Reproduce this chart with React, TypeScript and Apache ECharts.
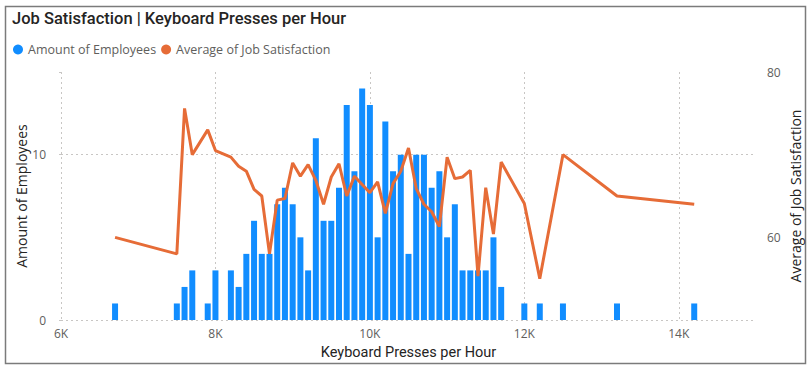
import React, { useEffect, useRef } from "react";
import * as echarts from "echarts";

const titleText = "Job Satisfaction | Keyboard Presses per Hour";
const seriesNames = ["Amount of Employees", "Average of Job Satisfaction"];
const xAxisName = "Keyboard Presses per Hour";

const bins = [6700, 7500, 7600, 7700, 7900, 8000, 8200, 8300, 8400, 8500, 8600, 8700, 8800, 8900, 9000, 9100, 9200, 9300, 9400, 9500, 9600, 9700, 9800, 9900, 10000, 10100, 10200, 10300, 10400, 10500, 10600, 10700, 10800, 10900, 11000, 11100, 11200, 11300, 11400, 11500, 11600, 11700, 12000, 12200, 12500, 13200, 14200];
const employees = [1, 1, 2, 3, 1, 3, 3, 2, 4, 6, 4, 4, 7, 8, 7, 5, 3, 11, 6, 6, 8, 13, 9, 14, 13, 5, 12, 9, 10, 4, 10, 10, 8, 9, 5, 7, 3, 3, 3, 3, 5, 2, 1, 1, 1, 1, 1];
const satisfaction = [60.0, 58.0, 75.6, 70.0, 73.0, 70.5, 69.7, 68.6, 68.0, 65.8, 65.0, 58.0, 64.5, 64.7, 69.0, 67.4, 68.8, 66.9, 64.0, 67.3, 68.9, 65.0, 67.4, 66.4, 65.4, 66.7, 62.9, 66.5, 68.0, 70.8, 65.9, 64.0, 63.1, 61.3, 69.7, 67.1, 67.3, 68.1, 55.3, 66.0, 60.4, 69.1, 64.1, 55.0, 70.0, 65.0, 64.0];

const leftTicks = [0, 10];
const rightTicks = [60, 80];

const FONT = "'Segoe UI', 'Open Sans', sans-serif";
const gridColor = "#C8C6C4";
const labelColor = "#605E5C";
const nameColor = "#252423";

export default function App() {
  const ref = useRef<HTMLDivElement>(null);
  useEffect(() => {
    document.body.style.margin = "0";
    const chart = echarts.init(ref.current!, null, { renderer: "svg" });
    const dotted = { color: gridColor, width: 1, type: [2, 3] as any };
    chart.setOption({
      animation: false,
      backgroundColor: "#fff",
      textStyle: { fontFamily: FONT },
      graphic: [
        {
          type: "rect",
          shape: { x: 5.5, y: 6.5, width: 800, height: 357 },
          style: { fill: "none", stroke: "#7b7b7b", lineWidth: 1.5 },
          silent: true,
        },
        {
          type: "text",
          left: 12,
          top: 10,
          style: { text: titleText, fontFamily: "Roboto, sans-serif", fontSize: 16.5, fontWeight: 500, fill: nameColor },
        },
      ],
      legend: {
        left: 8,
        top: 38,
        itemWidth: 10,
        itemHeight: 10,
        itemGap: 5,
        icon: "circle",
        textStyle: { color: labelColor, fontSize: 12.5, fontFamily: FONT },
        data: seriesNames,
      },
      grid: { left: 61, right: 56, top: 72, bottom: 51, containLabel: false },
      xAxis: {
        type: "value",
        min: 6000,
        max: 15000,
        interval: 2000,
        name: xAxisName,
        nameLocation: "middle",
        nameGap: 25,
        nameMoveOverlap: false,
        nameTextStyle: { color: nameColor, fontSize: 14.5, fontFamily: "Roboto, sans-serif" },
        axisLine: { show: false },
        axisTick: { show: false },
        axisLabel: {
          color: labelColor,
          fontSize: 12,
          margin: 7,
          showMaxLabel: false,
          formatter: (v: number) => (v >= 15000 ? "" : v / 1000 + "K"),
        },
        splitLine: { show: true, lineStyle: dotted, showMaxLine: false },
      },
      yAxis: [
        {
          type: "value",
          min: 0,
          max: 15,
          interval: 5,
          name: seriesNames[0],
          nameLocation: "middle",
          nameGap: 33,
          nameMoveOverlap: false,
          nameTextStyle: { color: nameColor, fontSize: 14 },
          axisLine: { show: false },
          axisTick: { show: false },
          axisLabel: {
            color: labelColor,
            fontSize: 12,
            margin: 15,
            formatter: (v: number) => (leftTicks.includes(v) ? String(v) : ""),
          },
          splitLine: { show: false },
        },
        {
          type: "value",
          min: 50,
          max: 80,
          interval: 10,
          name: seriesNames[1],
          nameLocation: "middle",
          nameGap: 32,
          nameMoveOverlap: false,
          nameTextStyle: { color: nameColor, fontSize: 14 },
          axisLine: { show: false },
          axisTick: { show: false },
          axisLabel: {
            color: labelColor,
            fontSize: 12,
            margin: 11,
            formatter: (v: number) => (rightTicks.includes(v) ? String(v) : ""),
          },
          splitLine: { show: false },
        },
        {
          type: "value",
          min: 0,
          max: 15,
          interval: 10,
          show: true,
          position: "left",
          axisLine: { show: false },
          axisTick: { show: true, length: 5, lineStyle: dotted },
          axisLabel: { show: false },
          splitLine: { show: true, lineStyle: dotted, showMaxLine: false },
        },
      ],
      series: [
        {
          name: seriesNames[0],
          type: "bar",
          yAxisIndex: 0,
          barWidth: 6,
          itemStyle: { color: "#118DFF" },
          data: bins.map((b, i) => [b, employees[i]]),
          z: 2,
        },
        {
          name: seriesNames[1],
          type: "line",
          yAxisIndex: 1,
          showSymbol: false,
          symbol: "circle",
          itemStyle: { color: "#E66C37" },
          lineStyle: { color: "#E66C37", width: 3 },
          data: bins.map((b, i) => [b, satisfaction[i]]),
          z: 3,
        },
      ],
    });
    return () => chart.dispose();
  }, []);
  return <div ref={ref} style={{ width: 812, height: 371 }} />;
}
